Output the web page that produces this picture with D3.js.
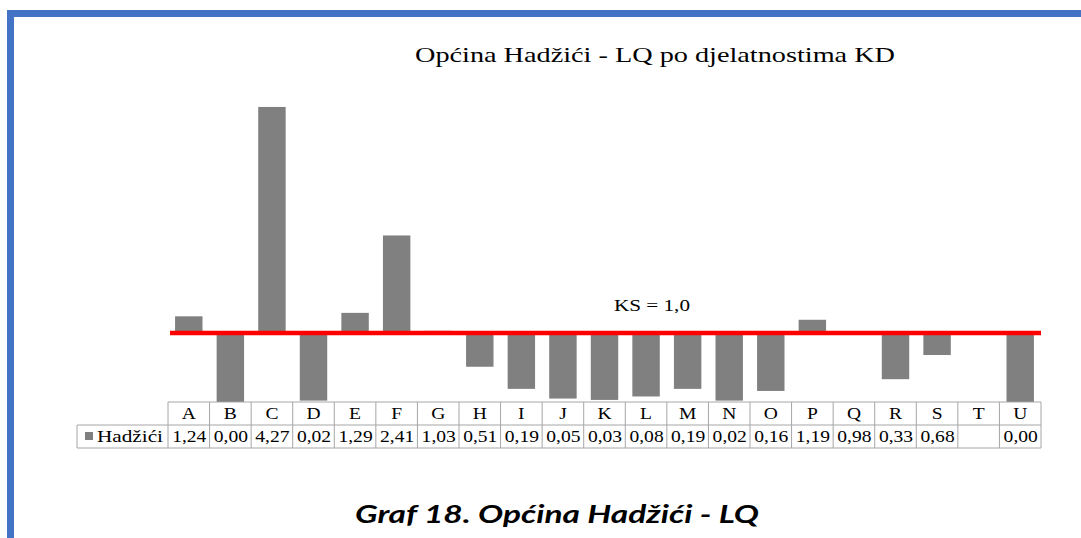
<!DOCTYPE html>
<html>
<head>
<meta charset="utf-8">
<script src="https://cdn.jsdelivr.net/npm/d3@7"></script>
<style>
  body { margin: 0; background: #fff; }
  svg { display: block; }
</style>
</head>
<body>
<div id="chart"></div>
<script>
// djelatnosti KD (categories) and LQ values for Hadžići
var categories = ["A","B","C","D","E","F","G","H","I","J","K","L","M","N","O","P","Q","R","S","T","U"];
var lqValues = [1.24,0.00,4.27,0.02,1.29,2.41,1.03,0.51,0.19,0.05,0.03,0.08,0.19,0.02,0.16,1.19,0.98,0.33,0.68,null,0.00];
var seriesName = "Hadžići";
var baseline = 1.0;
var chartTitle = "Općina Hadžići  - LQ po djelatnostima KD";
var baselineLabel = "KS = 1,0";
var caption = "Graf 18. Općina Hadžići - LQ";

var W = 1081, H = 538;
var svg = d3.select("#chart").append("svg")
    .attr("width", W)
    .attr("height", H);

// blue frame (top + left)
svg.append("rect").attr("x", 7).attr("y", 10).attr("width", W - 7).attr("height", 7).attr("fill", "#4472c4");
svg.append("rect").attr("x", 7).attr("y", 10).attr("width", 7).attr("height", H - 10).attr("fill", "#4472c4");

var x = d3.scaleBand()
    .domain(categories)
    .range([168, 1041])
    .paddingInner(0.34)
    .paddingOuter(0.17);

var y = d3.scaleLinear()
    .domain([0, 5])
    .range([402, 56.5]);

var colW = (1041 - 168) / categories.length;
function colX(i) { return 168 + i * colW; }

// title
svg.append("text")
    .text(chartTitle)
    .attr("x", 415)
    .attr("y", 62)
    .attr("textLength", 480)
    .attr("lengthAdjust", "spacingAndGlyphs")
    .attr("font-family", "Liberation Serif")
    .attr("font-size", "22px")
    .attr("fill", "#000");

// bars drawn from the KS = 1 line
svg.selectAll(".bar")
    .data(categories.map(function(c, i){ return {c: c, v: lqValues[i]}; })
        .filter(function(d){ return d.v !== null; }))
    .enter()
    .append("rect")
    .attr("class", "bar")
    .attr("x", function(d){ return x(d.c); })
    .attr("width", x.bandwidth())
    .attr("y", function(d){ return Math.min(y(d.v), y(baseline)); })
    .attr("height", function(d){ return Math.abs(y(d.v) - y(baseline)); })
    .attr("fill", "#808080");

// red line
svg.append("line")
    .attr("x1", 170)
    .attr("x2", 1041)
    .attr("y1", y(baseline))
    .attr("y2", y(baseline))
    .attr("stroke", "#ff0000")
    .attr("stroke-width", 4.5);

svg.append("text")
    .text(baselineLabel)
    .attr("x", 614)
    .attr("y", 311)
    .attr("textLength", 76)
    .attr("lengthAdjust", "spacingAndGlyphs")
    .attr("font-family", "Liberation Serif")
    .attr("font-size", "16px");

// data table
var rowTop = 402, rowMid = 425, rowBot = 448;
var gridColor = "#a6a6a6";
var table = svg.append("g").attr("class", "data_table");

table.append("line").attr("x1", 168).attr("x2", 1041).attr("y1", rowTop).attr("y2", rowTop);
table.append("line").attr("x1", 77).attr("x2", 1041).attr("y1", rowMid).attr("y2", rowMid);
table.append("line").attr("x1", 77).attr("x2", 1041).attr("y1", rowBot).attr("y2", rowBot);
table.append("line").attr("x1", 77).attr("x2", 77).attr("y1", rowMid).attr("y2", rowBot);
table.selectAll(".vline")
    .data(d3.range(categories.length + 1))
    .enter()
    .append("line")
    .attr("x1", function(i){ return colX(i); })
    .attr("x2", function(i){ return colX(i); })
    .attr("y1", rowTop)
    .attr("y2", rowBot);
table.selectAll("line").attr("stroke", gridColor).attr("stroke-width", 1);

function cellText(sel) {
    sel.attr("font-family", "Liberation Serif")
        .attr("font-size", "17px")
        .attr("text-anchor", "middle")
        .attr("fill", "#000");
}

table.selectAll(".cat_text")
    .data(categories)
    .enter()
    .append("text")
    .text(function(d){ return d; })
    .attr("transform", function(d, i){ return "translate(" + (colX(i) + colW / 2) + "," + (rowMid - 6) + ") scale(1.15,1)"; })
    .call(cellText);

table.selectAll(".val_text")
    .data(lqValues)
    .enter()
    .append("text")
    .text(function(d){ return d === null ? "" : d.toFixed(2).replace(".", ","); })
    .attr("transform", function(d, i){ return "translate(" + (colX(i) + colW / 2 + 0.5) + "," + (rowBot - 6) + ") scale(1.15,1)"; })
    .call(cellText);

// legend key
table.append("rect").attr("x", 85).attr("y", 432).attr("width", 8).attr("height", 8).attr("fill", "#808080");
table.append("text")
    .text(seriesName)
    .attr("x", 97)
    .attr("y", rowBot - 6)
    .attr("textLength", 66)
    .attr("lengthAdjust", "spacingAndGlyphs")
    .attr("font-family", "Liberation Serif")
    .attr("font-size", "17px");

// caption
svg.append("text")
    .text(caption)
    .attr("x", 355)
    .attr("y", 523)
    .attr("textLength", 404)
    .attr("lengthAdjust", "spacingAndGlyphs")
    .attr("font-family", "Lato")
    .attr("font-weight", "bold")
    .attr("font-style", "italic")
    .attr("font-size", "25px");
</script>
</body>
</html>
